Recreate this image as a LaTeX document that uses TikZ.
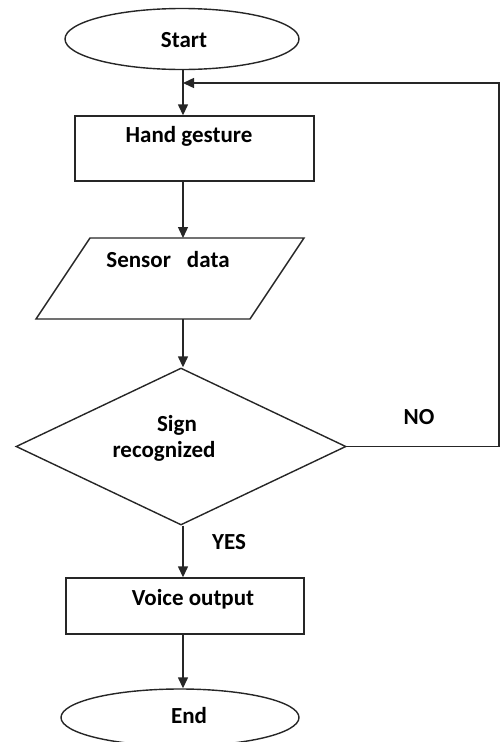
\documentclass[tikz,border=0pt]{standalone}
\usepackage{fontspec}
\setmainfont{Carlito}
\usetikzlibrary{shapes.geometric,arrows.meta}
\begin{document}
\begin{tikzpicture}[x=1pt,y=-1pt,
  line/.style={line width=1.4pt,draw=black!85},
  arr/.style={line,-{Triangle[length=11pt,width=10pt]}},
  shp/.style={line,fill=white,inner sep=0pt},
  txt/.style={font=\fontsize{23}{26}\selectfont\bfseries,inner sep=0pt,text=black}]
\useasboundingbox (0,0) rectangle (501,742);
% shapes
\node[shp,ellipse,minimum width=234pt,minimum height=61pt] (start) at (182,39) {};
\node[shp,rectangle,minimum width=239pt,minimum height=65pt] (hand) at (194.5,148.5) {};
\draw[shp] (90,238) -- (304,238) -- (250,319) -- (36,319) -- cycle;
\coordinate (sdtop) at (183,238);
\coordinate (sdbot) at (183,319);
\node[shp,diamond,aspect=2.1,minimum width=330pt,minimum height=157pt] (dec) at (181,446.5) {};
\node[shp,rectangle,minimum width=238pt,minimum height=56pt] (voice) at (185,606) {};
\node[shp,ellipse,minimum width=238pt,minimum height=57pt] (end) at (180,717.5) {};
% texts
\node[txt] (tstart) at (184,40) {Start};
\node[txt] (thand) at (189,136) {Hand gesture};
\node[txt] (tsensor) at (168,260) {Sensor\hspace{0.7em}data};
\node[txt] (tsign) at (177,425) {Sign};
\node[txt] (trec) at (164,451) {recognized};
\node[txt] (tno) at (419,417) {NO};
\node[txt] (tyes) at (229,542) {YES};
\node[txt] (tvoice) at (193,599) {Voice output};
\node[txt] (tend) at (189,716) {End};
% connectors
\coordinate (fb) at (183,83);
\coordinate (fbr) at (499,83);
\draw[arr] (start.south -| fb) -- (fb |- hand.north);
\draw[arr] (hand.south -| sdtop) -- (sdtop);
\draw[arr] (sdbot) -- (sdbot |- dec.north);
\draw[arr] (dec.south -| fb) -- (fb |- voice.north);
\draw[arr] (voice.south -| fb) -- (fb |- end.north);
\draw[arr] (dec.east) -- (dec.east -| fbr) -- (fbr) -- (fb);
\end{tikzpicture}
\end{document}
